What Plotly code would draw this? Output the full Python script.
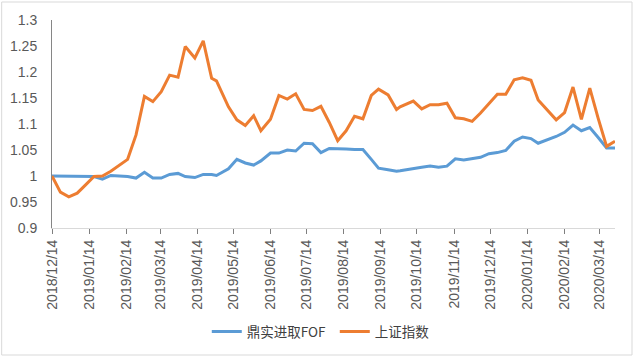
import plotly.graph_objects as go

dates = [
    "2018-12-14", "2018-12-21", "2018-12-28", "2019-01-04", "2019-01-11", "2019-01-18",
    "2019-01-25", "2019-02-01", "2019-02-15", "2019-02-22", "2019-03-01", "2019-03-08",
    "2019-03-15", "2019-03-22", "2019-03-29", "2019-04-04", "2019-04-12", "2019-04-19",
    "2019-04-26", "2019-04-30", "2019-05-10", "2019-05-17", "2019-05-24", "2019-05-31",
    "2019-06-06", "2019-06-14", "2019-06-21", "2019-06-28", "2019-07-05", "2019-07-12",
    "2019-07-19", "2019-07-26", "2019-08-02", "2019-08-09", "2019-08-16", "2019-08-23",
    "2019-08-30", "2019-09-06", "2019-09-12", "2019-09-20", "2019-09-27", "2019-09-30",
    "2019-10-11", "2019-10-18", "2019-10-25", "2019-11-01", "2019-11-08", "2019-11-15",
    "2019-11-22", "2019-11-29", "2019-12-06", "2019-12-13", "2019-12-20", "2019-12-27",
    "2020-01-03", "2020-01-10", "2020-01-17", "2020-01-23", "2020-02-07", "2020-02-14",
    "2020-02-21", "2020-02-28", "2020-03-06", "2020-03-13", "2020-03-20", "2020-03-27",
]

fof_values = [
    1.000, 1.000, 1.000, 1.000, 1.000, 0.999,
    0.994, 1.001, 0.999, 0.996, 1.007, 0.996,
    0.996, 1.003, 1.005, 0.999, 0.997, 1.003,
    1.003, 1.001, 1.014, 1.032, 1.025, 1.021,
    1.029, 1.044, 1.044, 1.050, 1.048, 1.063,
    1.062, 1.045, 1.053, 1.053, 1.052, 1.051,
    1.051, 1.032, 1.015, 1.012, 1.009, 1.010,
    1.015, 1.017, 1.019, 1.017, 1.019, 1.033,
    1.031, 1.033, 1.036, 1.043, 1.045, 1.049,
    1.067, 1.075, 1.072, 1.063, 1.076, 1.084,
    1.098, 1.087, 1.093, 1.074, 1.054, 1.054,
]

sse_values = [
    1.000, 0.969, 0.960, 0.967, 0.983, 0.999,
    1.000, 1.009, 1.032, 1.079, 1.153, 1.143,
    1.162, 1.194, 1.190, 1.249, 1.227, 1.260,
    1.188, 1.183, 1.133, 1.108, 1.097, 1.116,
    1.087, 1.109, 1.155, 1.148, 1.158, 1.128,
    1.126, 1.134, 1.103, 1.068, 1.087, 1.115,
    1.110, 1.155, 1.167, 1.156, 1.128, 1.133,
    1.144, 1.129, 1.137, 1.137, 1.140, 1.112,
    1.110, 1.105, 1.121, 1.140, 1.157, 1.157,
    1.185, 1.189, 1.184, 1.146, 1.108, 1.122,
    1.171, 1.109, 1.169, 1.111, 1.057, 1.067,
]

tick_dates = [
    "2018-12-14", "2019-01-14", "2019-02-14", "2019-03-14", "2019-04-14", "2019-05-14",
    "2019-06-14", "2019-07-14", "2019-08-14", "2019-09-14", "2019-10-14", "2019-11-14",
    "2019-12-14", "2020-01-14", "2020-02-14", "2020-03-14",
]
tick_labels = [d.replace("-", "/") for d in tick_dates]

series_names = ["鼎实进取FOF", "上证指数"]
colors = ["#5B9BD5", "#ED7D31"]

fig = go.Figure()
fig.add_trace(go.Scatter(x=dates, y=fof_values, mode="lines", name=series_names[0],
                         line=dict(color=colors[0], width=3)))
fig.add_trace(go.Scatter(x=dates, y=sse_values, mode="lines", name=series_names[1],
                         line=dict(color=colors[1], width=3)))

tick_font = dict(family="Liberation Sans, Arial, sans-serif", size=14, color="#595959")

PL, PR, PT, PB = 52.3, 615.0, 20.0, 228.0
PW, PH = PR - PL, PB - PT

fig.update_layout(
    width=635, height=360,
    margin=dict(l=PL, r=635 - PR, t=PT, b=360 - PB, autoexpand=False),
    paper_bgcolor="white", plot_bgcolor="white",
    showlegend=True,
    legend=dict(orientation="h", x=(207 - PL) / PW, xanchor="left",
                y=(PB - 331.7) / PH, yanchor="middle", entrywidth=83,
                font=dict(family="Noto Sans CJK SC, sans-serif", size=13.5, color="#404040"),
                bgcolor="rgba(0,0,0,0)"),
    xaxis=dict(type="date", range=["2018-12-14", "2020-03-27"], tickmode="array",
               tickvals=tick_dates, ticktext=tick_labels, tickangle=-90,
               showgrid=False, zeroline=False, showline=True, linecolor="#D9D9D9",
               linewidth=1, ticks="outside", ticklen=5, tickcolor="#7F7F7F",
               tickfont=tick_font, automargin=False),
    yaxis=dict(range=[0.9, 1.3], dtick=0.05, tick0=0.9, showgrid=False, zeroline=False,
               showline=True, linecolor="#868686", linewidth=1, ticks="",
               ticklabelstandoff=11, tickfont=tick_font, automargin=False),
    shapes=[dict(type="rect", xref="paper", yref="paper",
                 x0=(2 - PL) / PW, x1=(632 - PL) / PW,
                 y0=(PB - 355) / PH, y1=(PB - 2) / PH,
                 line=dict(color="#D9D9D9", width=1), fillcolor="rgba(0,0,0,0)",
                 layer="below")],
)

fig.write_html("out.html", config={"displayModeBar": False},
               post_script="document.body.style.margin='0';")
